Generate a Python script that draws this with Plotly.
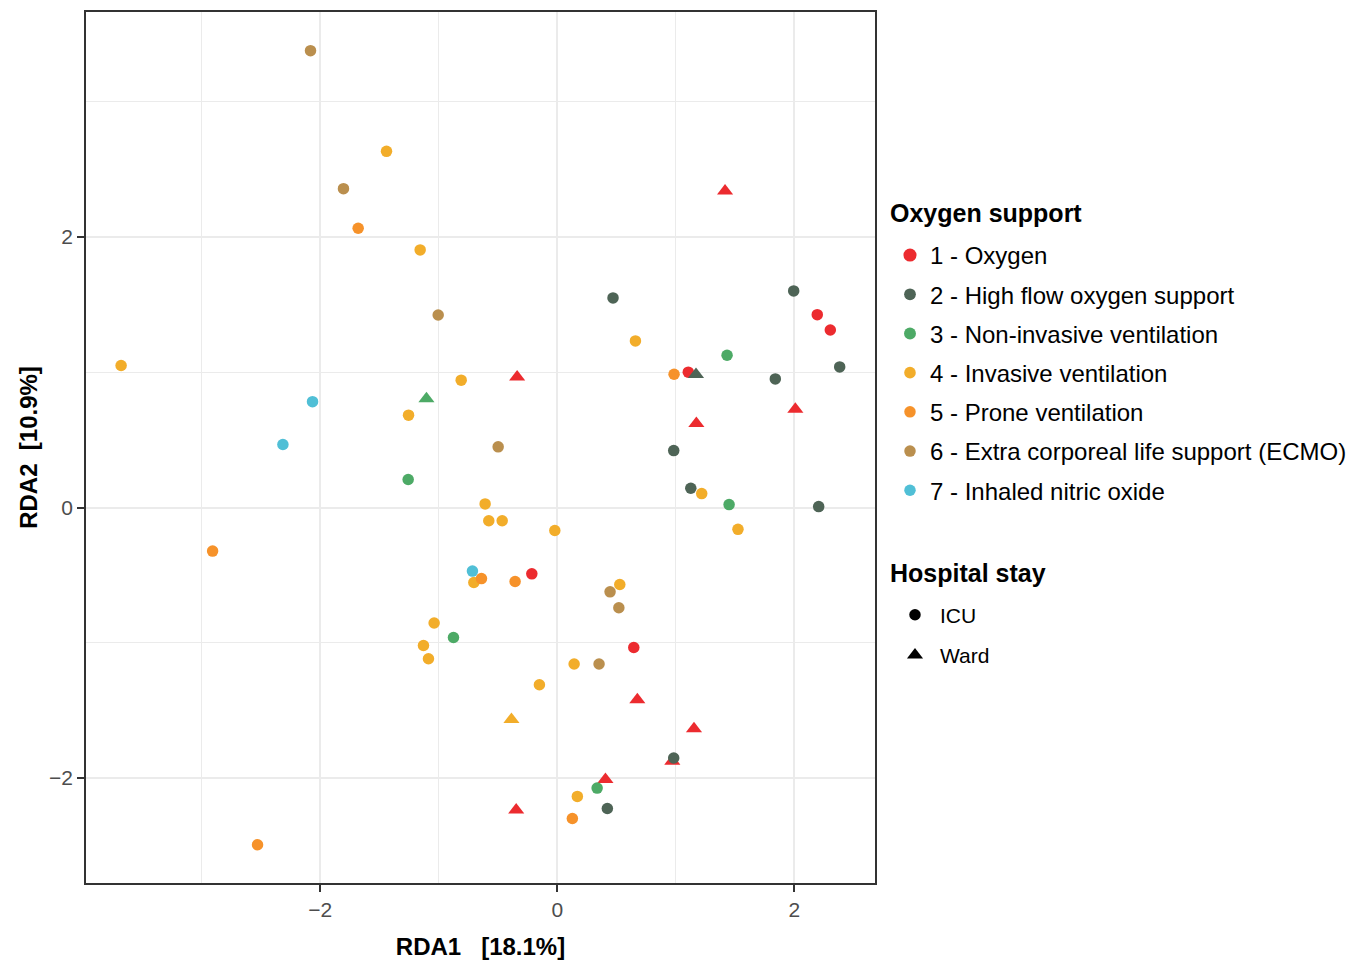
import plotly.graph_objects as go

# ---- data -------------------------------------------------------------
oxygen_levels = [
    "1 - Oxygen",
    "2 - High flow oxygen support",
    "3 - Non-invasive ventilation",
    "4 - Invasive ventilation",
    "5 - Prone ventilation",
    "6 - Extra corporeal life support (ECMO)",
    "7 - Inhaled nitric oxide",
]
oxygen_colors = ["#EC2B2F", "#4E6456", "#4DAA66", "#F2AD2A", "#F6922A", "#BA8F4E", "#50BFD6"]
stay_levels = ["ICU", "Ward"]

rda1 = [
    # 1 - Oxygen
    1.105, 2.193, 2.303, -0.215, 0.645,
    1.415, -0.339, 1.173, 2.008, 0.675, 1.153, 0.970, 0.406, -0.347,
    # 2 - High flow
    0.470, 1.994, 1.839, 2.382, 0.982, 1.126, 2.205, 0.982, 0.422,
    1.170,
    # 3 - NIV
    1.432, 1.449, -1.258, -0.876, 0.336,
    -1.104,
    # 4 - Invasive
    -1.441, -1.157, 0.659, -3.680, -0.811, -1.255, -0.609, -0.578, -0.465, -0.021,
    1.218, 1.524, -0.704, 0.527, -1.039, -1.129, -1.087, 0.142, -0.151, 0.169,
    -0.387,
    # 5 - Prone
    -1.680, 0.985, -2.908, -0.640, -0.356, 0.127, -2.529,
    # 6 - ECMO
    -2.082, -1.804, -1.005, -0.499, 0.445, 0.519, 0.352,
    # 7 - Inhaled NO
    -2.065, -2.315, -0.716,
]
rda2 = [
    1.001, 1.426, 1.313, -0.490, -1.035,
    2.341, 0.966, 0.621, 0.727, -1.422, -1.636, -1.875, -2.011, -2.237,
    1.550, 1.602, 0.951, 1.040, 0.421, 0.143, 0.007, -1.852, -2.225,
    0.984,
    1.126, 0.022, 0.207, -0.961, -2.074,
    0.805,
    2.634, 1.905, 1.232, 1.050, 0.942, 0.683, 0.027, -0.098, -0.098, -0.170,
    0.103, -0.161, -0.554, -0.569, -0.854, -1.020, -1.118, -1.157, -1.310, -2.136,
    -1.567,
    2.065, 0.986, -0.322, -0.525, -0.547, -2.299, -2.493,
    3.378, 2.358, 1.424, 0.449, -0.623, -0.741, -1.157,
    0.783, 0.466, -0.470,
]
oxygen = [1] * 14 + [2] * 10 + [3] * 6 + [4] * 21 + [5] * 7 + [6] * 7 + [7] * 3
stay = (["ICU"] * 5 + ["Ward"] * 9
        + ["ICU"] * 9 + ["Ward"]
        + ["ICU"] * 5 + ["Ward"]
        + ["ICU"] * 20 + ["Ward"]
        + ["ICU"] * 7
        + ["ICU"] * 7
        + ["ICU"] * 3)

symbol_map = {"ICU": "circle", "Ward": "triangle-up"}
size_map = {"ICU": 11.5, "Ward": 14}

FONT = "Liberation Sans, Arial, Helvetica, sans-serif"

fig = go.Figure()

for k, (label, color) in enumerate(zip(oxygen_levels, oxygen_colors), start=1):
    idx = [i for i, g in enumerate(oxygen) if g == k]
    fig.add_trace(go.Scatter(
        x=[rda1[i] for i in idx],
        y=[rda2[i] for i in idx],
        mode="markers",
        name=label,
        legend="legend",
        legendgroup="oxy%d" % k,
        marker=dict(
            color=color,
            opacity=1,
            symbol=[symbol_map[stay[i]] for i in idx],
            size=[size_map[stay[i]] for i in idx],
            line=dict(width=0),
        ),
    ))

for s in stay_levels:
    fig.add_trace(go.Scatter(
        x=[None], y=[None], mode="markers", name=s,
        legend="legend2", legendgroup="stay_" + s,
        marker=dict(color="black", opacity=1, symbol=symbol_map[s], size=size_map[s]),
    ))

axis_common = dict(
    showline=True, mirror=True, linecolor="#333333", linewidth=1.5,
    ticks="outside", ticklen=7, tickwidth=1.5, tickcolor="#333333",
    showgrid=True, gridcolor="#EBEBEB", gridwidth=2.2,
    zeroline=False, automargin=False,
    tickfont=dict(family=FONT, size=21, color="#4D4D4D"),
    tick0=0, dtick=2,
    minor=dict(dtick=1, tick0=0, showgrid=True, gridcolor="#EBEBEB", gridwidth=1.1, ticks=""),
)

fig.update_layout(
    width=1354, height=963,
    margin=dict(l=86, r=479, t=12, b=80, autoexpand=False),
    plot_bgcolor="white", paper_bgcolor="white",
    font=dict(family=FONT, color="black"),
    xaxis=dict(axis_common, range=[-3.976, 2.680],
               title=dict(text="RDA1\u00a0\u00a0\u00a0[18.1%]",
                          font=dict(family=FONT, size=24, weight="bold", color="black"),
                          standoff=18)),
    yaxis=dict(axis_common, range=[-2.776, 3.664],
               title=dict(text="RDA2\u00a0\u00a0[10.9%]",
                          font=dict(family=FONT, size=24, weight="bold", color="black"),
                          standoff=5)),
    legend=dict(
        font=dict(family=FONT, size=24, color="black"),
        x=1.019, y=0.7463, xanchor="left", yanchor="top",
        tracegroupgap=5, itemwidth=30, bgcolor="rgba(0,0,0,0)",
        itemclick=False, itemdoubleclick=False,
    ),
    legend2=dict(
        font=dict(family=FONT, size=21, color="black"),
        x=1.019, y=0.3311, xanchor="left", yanchor="top",
        tracegroupgap=10, itemwidth=40, bgcolor="rgba(0,0,0,0)",
        itemclick=False, itemdoubleclick=False,
    ),
    showlegend=True,
    annotations=[
        dict(text="Oxygen support", xref="paper", yref="paper",
             x=1.0165, y=0.7692, xanchor="left", yanchor="middle", showarrow=False,
             font=dict(family=FONT, size=25, weight="bold", color="black")),
        dict(text="Hospital stay", xref="paper", yref="paper",
             x=1.0165, y=0.3559, xanchor="left", yanchor="middle", showarrow=False,
             font=dict(family=FONT, size=25, weight="bold", color="black")),
    ],
)

fig.write_html("out.html")
